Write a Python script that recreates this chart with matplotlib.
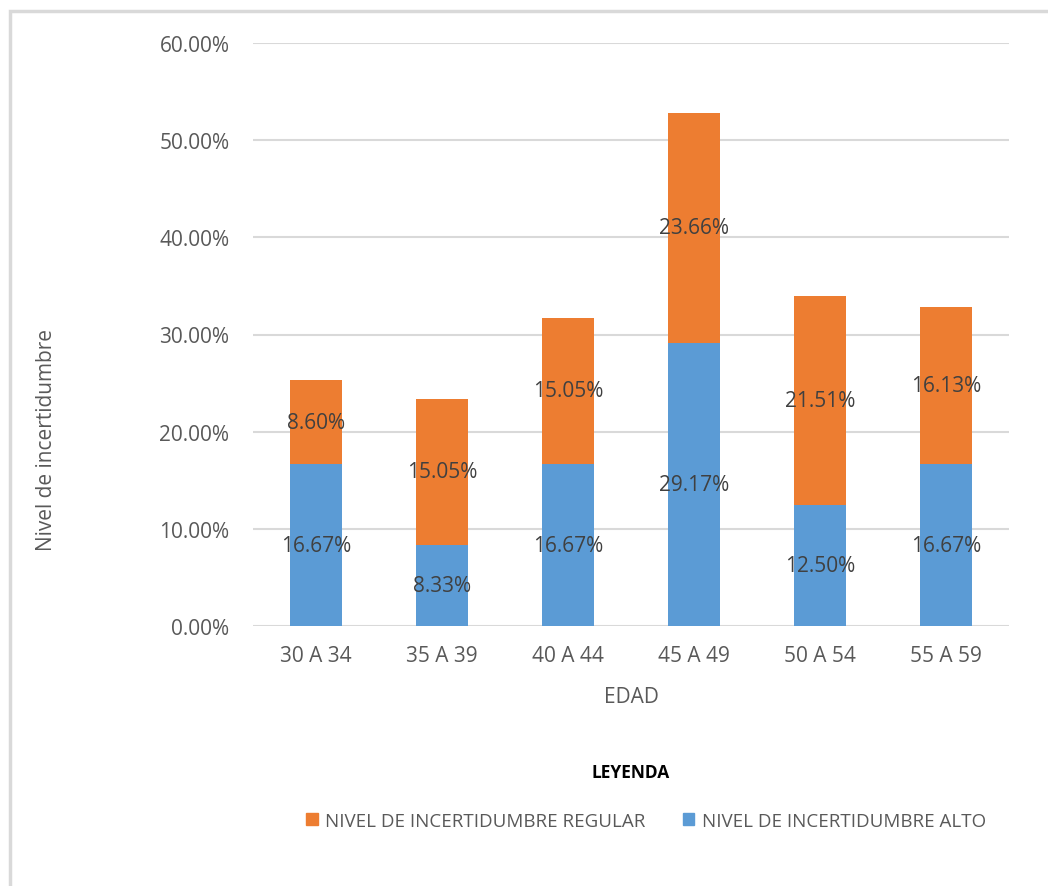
import matplotlib
matplotlib.use("Agg")
import matplotlib.pyplot as plt
import matplotlib.patches as mpatches
from matplotlib.ticker import FuncFormatter

# data
edades = ["30 A 34", "35 A 39", "40 A 44", "45 A 49", "50 A 54", "55 A 59"]
alto = [16.67, 8.33, 16.67, 29.17, 12.50, 16.67]
regular = [8.60, 15.05, 15.05, 23.66, 21.51, 16.13]
yticks = [0, 10, 20, 30, 40, 50, 60]

col_alto = "#5B9BD5"
col_regular = "#ED7D31"
gris = "#595959"

plt.rcParams["font.family"] = ["Open Sans", "DejaVu Sans"]

fig = plt.figure(figsize=(10.48, 8.87), dpi=100)
fig.patch.set_facecolor("white")

# marco gris claro del grafico
fig.patches.append(mpatches.Rectangle((10 / 1048, -0.1), 1.2, 1 - 12 / 887 + 0.1,
                                      transform=fig.transFigure, fill=False,
                                      edgecolor="#D9D9D9", linewidth=2.5))

ax = fig.add_axes([253 / 1048, 1 - 627 / 887, 756 / 1048, (627 - 44) / 887])

x = range(len(edades))
ax.bar(x, alto, width=0.41, color=col_alto, zorder=3)
ax.bar(x, regular, width=0.41, bottom=alto, color=col_regular, zorder=3)

for i in x:
    ax.text(i, alto[i] / 2, "%.2f%%" % alto[i], ha="center", va="center",
            fontsize=15, color="#404040", zorder=4)
    ax.text(i, alto[i] + regular[i] / 2, "%.2f%%" % regular[i], ha="center",
            va="center", fontsize=15, color="#404040", zorder=4)

ax.set_xlim(-0.5, len(edades) - 0.5)
ax.set_ylim(0, 60)
ax.set_yticks(yticks)
ax.yaxis.set_major_formatter(FuncFormatter(lambda v, p: "%.2f%%" % v))
ax.set_xticks(list(x))
ax.set_xticklabels(edades)
ax.grid(axis="y", color="#D9D9D9", linewidth=1.5, zorder=0)
ax.set_axisbelow(True)
for s in ["top", "right", "left", "bottom"]:
    ax.spines[s].set_visible(False)
ax.tick_params(axis="both", length=0, labelsize=15, labelcolor=gris)
ax.tick_params(axis="y", pad=17)
ax.tick_params(axis="x", pad=14)

ax.set_xlabel("EDAD", fontsize=15, color=gris, labelpad=14)
fig.text(47 / 1048, 1 - 440 / 887, "Nivel de incertidumbre", rotation=90,
         ha="center", va="center", fontsize=15, color=gris)

fig.text(631 / 1048, 1 - 773 / 887, "LEYENDA", ha="center", va="center",
         fontsize=12.5, fontweight="bold", color="black")

handles = [mpatches.Patch(color=col_regular), mpatches.Patch(color=col_alto)]
fig.legend(handles, ["NIVEL DE INCERTIDUMBRE REGULAR", "NIVEL DE INCERTIDUMBRE ALTO"],
           loc="center", bbox_to_anchor=(646 / 1048, 1 - 822 / 887), ncol=2,
           frameon=False, handlelength=0.6, handleheight=0.6, handletextpad=0.4,
           columnspacing=2.0, prop={"size": 13.5}, labelcolor=gris)

fig.savefig("out.png", dpi=100)
